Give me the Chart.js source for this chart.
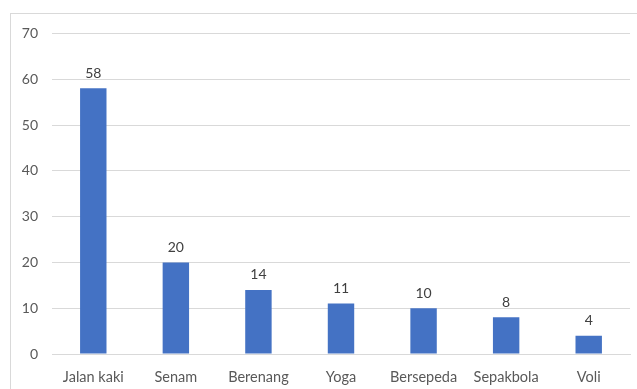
<!DOCTYPE html>
<html>
<head>
<meta charset="utf-8">
<script src="https://cdn.jsdelivr.net/npm/chart.js@4.4.1/dist/chart.umd.min.js"></script>
<style>
  html, body { margin: 0; padding: 0; background: #fff; }
  #frame {
    position: absolute; left: 10px; top: 13px;
    width: 627px; height: 376px;
    border-top: 1px solid #d9d9d9; border-left: 1px solid #d9d9d9;
  }
  #chart1 { position: absolute; left: 0; top: -3px; }
</style>
</head>
<body>
<div id="frame"><canvas id="chart1" width="626" height="378"></canvas></div>
<script>
const categories = ['Jalan kaki', 'Senam', 'Berenang', 'Yoga', 'Bersepeda', 'Sepakbola', 'Voli'];
const counts = [58, 20, 14, 11, 10, 8, 4];

const FONT = 'Lato, "Open Sans", sans-serif';

// writes each bar's value just above it
const valueLabels = {
    id: 'valueLabels',
    afterDatasetsDraw(chart) {
        const ctx = chart.ctx;
        const meta = chart.getDatasetMeta(0);
        ctx.save();
        ctx.font = '14px ' + FONT;
        ctx.fillStyle = '#404040';
        ctx.textAlign = 'center';
        ctx.textBaseline = 'bottom';
        meta.data.forEach((bar, i) => {
            ctx.fillText(counts[i], bar.x, bar.y - 8);
        });
        ctx.restore();
    }
};

new Chart('chart1', {
    type: 'bar',
    data: {
        labels: categories,
        datasets: [{
            data: counts,
            backgroundColor: '#4472C4',
            categoryPercentage: 1,
            barPercentage: 0.32
        }]
    },
    options: {
        responsive: false,
        animation: false,
        layout: { padding: { top: 13, right: 7, left: 0, bottom: 0 } },
        plugins: {
            legend: { display: false },
            tooltip: { enabled: false }
        },
        scales: {
            x: {
                grid: { display: false, drawTicks: false },
                border: { color: '#d9d9d9' },
                ticks: { color: '#595959', font: { family: FONT, size: 14.5 }, padding: 15 },
                afterFit: s => { s.height = 35; }
            },
            y: {
                min: 0, max: 70,
                ticks: { stepSize: 10, color: '#595959', font: { family: FONT, size: 14 }, padding: 14 },
                grid: { color: '#d9d9d9', drawTicks: false },
                border: { display: false },
                afterFit: s => { s.width = 41; }
            }
        }
    },
    plugins: [valueLabels]
});
</script>
</body>
</html>
